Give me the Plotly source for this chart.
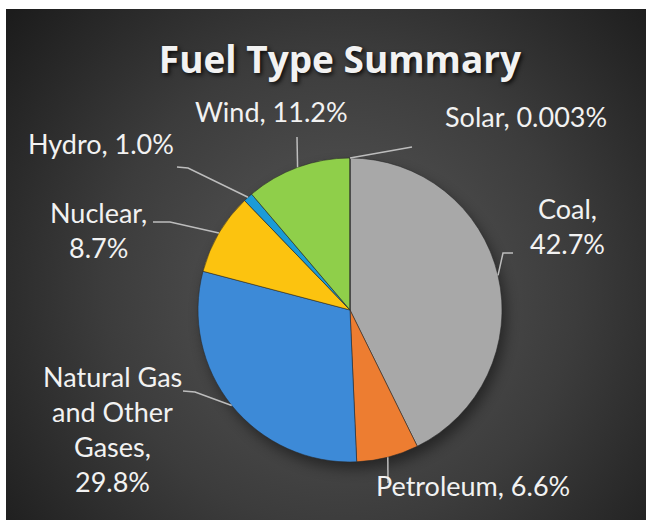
import math
import base64
import plotly.graph_objects as go

# ---------------- data ----------------
categories = ["Coal", "Petroleum", "Natural Gas and Other Gases", "Nuclear", "Hydro", "Wind", "Solar"]
shares = [42.7, 6.6, 29.8, 8.7, 1.0, 11.2, 0.003]
title_text = "Fuel Type Summary"

# ---------------- style ----------------
colors = ["#a8a8a8", "#ed7d31", "#3d8ad7", "#fcc30f", "#1b9bd7", "#8fcf4a", "#2e5f8f"]
W, H = 646, 520
BL, BT = 6, 9                # white border (left, top) of the picture
CX, CY, R = 350, 310, 152    # pie centre / radius in px
FONT = "Lato"
TXT = "#f2f2f2"
LINE = "#bdbdbd"

# label layout: display name lines, whether value wraps to new line,
# label block centre (px), leader elbow points (px, from label side)
label_layout = {
    "Coal": dict(name=["Coal"], wrap=True, pos=(567, 226), path=[(513, 253), (503, 253)]),
    "Petroleum": dict(name=["Petroleum"], wrap=False, pos=(473, 485), path=[(388, 483)]),
    "Natural Gas and Other Gases": dict(name=["Natural Gas", "and Other", "Gases"], wrap=True,
                                        pos=(112, 429), path=[(183, 391), (195, 392)]),
    "Nuclear": dict(name=["Nuclear"], wrap=True, pos=(98, 230), path=[(153, 222), (170, 222)]),
    "Hydro": dict(name=["Hydro"], wrap=False, pos=(101, 143), path=[(177, 167), (188, 168)]),
    "Wind": dict(name=["Wind"], wrap=False, pos=(271, 111), path=[(297, 137)]),
    "Solar": dict(name=["Solar"], wrap=False, pos=(526, 117), path=[(412, 147)]),
}
LINE_STEP = 35


def fmt(v):
    return f"{v:.1f}%" if v >= 0.1 else f"{v:g}%"


def px(x, y):
    """pixel -> paper coordinates"""
    return x / W, 1 - y / H


# ---------------- background (radial gradient + pie shadow) ----------------
svg = f"""<svg xmlns='http://www.w3.org/2000/svg' width='{W}' height='{H}' viewBox='0 0 {W} {H}'>
<defs>
<radialGradient id='g' gradientUnits='userSpaceOnUse' cx='340' cy='290' r='430'>
<stop offset='0' stop-color='#595959'/>
<stop offset='0.55' stop-color='#3c3c3c'/>
<stop offset='1' stop-color='#1c1c1c'/>
</radialGradient>
<filter id='b' x='-30%' y='-30%' width='160%' height='160%'><feGaussianBlur stdDeviation='7'/></filter>
</defs>
<rect x='0' y='0' width='{W}' height='{H}' fill='#ffffff'/>
<rect x='{BL}' y='{BT}' width='{W - BL}' height='{H - BT}' fill='url(#g)'/>
<circle cx='{CX + 4}' cy='{CY + 7}' r='{R}' fill='#000000' opacity='0.45' filter='url(#b)'/>
</svg>"""
bg_uri = "data:image/svg+xml;base64," + base64.b64encode(svg.encode()).decode()

# ---------------- figure ----------------
fig = go.Figure()
dx0, dy0 = px(CX - R, CY + R)
dx1, dy1 = px(CX + R, CY - R)
fig.add_trace(go.Pie(
    labels=categories,
    values=shares,
    sort=False,
    direction="clockwise",
    rotation=0,
    textinfo="none",
    hoverinfo="label+percent",
    marker=dict(colors=colors, line=dict(color="rgba(40,40,40,0.55)", width=1)),
    domain=dict(x=[dx0, dx1], y=[dy0, dy1]),
    showlegend=False,
))

shapes = []
annotations = []
total = sum(shares)
cum = 0.0
for cat, v in zip(categories, shares):
    mid = (cum + v / 2) / total
    cum += v
    ang = 2 * math.pi * mid
    ax_, ay_ = CX + R * math.sin(ang), CY - R * math.cos(ang)
    lay = label_layout[cat]
    pts = lay["path"] + [(ax_, ay_)]
    d = "M " + " L ".join(f"{px(x, y)[0]:.5f},{px(x, y)[1]:.5f}" for x, y in pts)
    shapes.append(dict(type="path", path=d, xref="paper", yref="paper",
                       line=dict(color=LINE, width=1.5), layer="above"))
    names = list(lay["name"])
    if lay["wrap"]:
        lines = names[:-1] + [names[-1] + ","] + [fmt(v)]
    else:
        lines = names[:-1] + [names[-1] + ", " + fmt(v)]
    cx_, cy_ = lay["pos"]
    n = len(lines)
    for i, t in enumerate(lines):
        ly = cy_ + (i - (n - 1) / 2) * LINE_STEP
        x0, y0 = px(cx_, ly)
        annotations.append(dict(text=t, x=x0, y=y0, xref="paper", yref="paper",
                                xanchor="center", yanchor="middle", showarrow=False,
                                font=dict(family=FONT, size=27, color=TXT)))

tx, ty = px(340, 60)
fig.update_layout(
    width=W, height=H,
    margin=dict(l=0, r=0, t=0, b=0),
    paper_bgcolor="#1e1e1e",
    plot_bgcolor="rgba(0,0,0,0)",
    title=dict(text=title_text, x=tx, y=ty, xanchor="center", yanchor="middle",
               xref="paper", yref="paper",
               font=dict(family="Open Sans", size=37, weight="bold", color=TXT,
                         shadow="2px 2px 4px rgba(0,0,0,0.8)")),
    images=[dict(source=bg_uri, xref="paper", yref="paper", x=0, y=1, sizex=1, sizey=1,
                 sizing="stretch", xanchor="left", yanchor="top", layer="below")],
    shapes=shapes,
    annotations=annotations,
)

fig.write_html(
    "out.html",
    config={"displayModeBar": False},
    post_script="document.body.style.margin='0';document.body.style.overflow='hidden';",
)
